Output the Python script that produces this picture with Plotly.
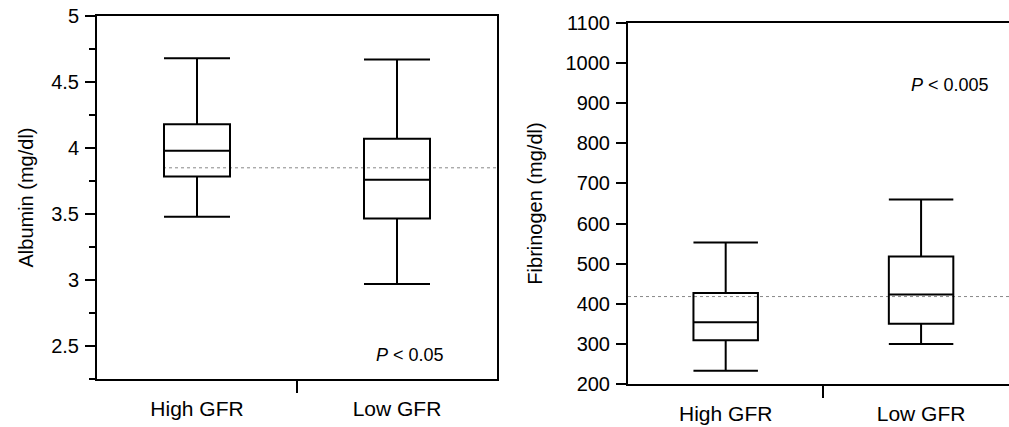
import plotly.graph_objects as go

# ---- data ----
groups = ["High GFR", "Low GFR"]
group_pos = [0, 1]

alb_low = [3.48, 2.97]
alb_q1 = [3.785, 3.465]
alb_median = [3.98, 3.76]
alb_q3 = [4.18, 4.07]
alb_high = [4.68, 4.67]
alb_ref = 3.85
alb_ticks = [2.5, 3, 3.5, 4, 4.5, 5]

fib_low = [233, 300]
fib_q1 = [309, 350]
fib_median = [354, 423]
fib_q3 = [427, 518]
fib_high = [553, 660]
fib_ref = 418
fib_ticks = [200, 300, 400, 500, 600, 700, 800, 900, 1000, 1100]

FONT = "Liberation Sans, Arial, sans-serif"
W, H = 1009, 427

fig = go.Figure()

box_style = dict(
    boxpoints=False,
    line=dict(color="black", width=2),
    fillcolor="rgba(255,255,255,0)",
    whiskerwidth=1,
    width=0.33,
    showlegend=False,
    hoverinfo="skip",
)

fig.add_trace(go.Box(x=group_pos, q1=alb_q1, median=alb_median, q3=alb_q3,
                     lowerfence=alb_low, upperfence=alb_high,
                     xaxis="x", yaxis="y", **box_style))
fig.add_trace(go.Box(x=group_pos, q1=fib_q1, median=fib_median, q3=fib_q3,
                     lowerfence=fib_low, upperfence=fib_high,
                     xaxis="x2", yaxis="y2", **box_style))

# reference dotted lines
fig.add_shape(type="line", xref="x", yref="y", x0=-0.17, x1=1.5, y0=alb_ref, y1=alb_ref,
              line=dict(color="#888888", width=1, dash="dot"), layer="below")
fig.add_shape(type="line", xref="x2", yref="y2", x0=-0.5, x1=1.46, y0=fib_ref, y1=fib_ref,
              line=dict(color="#888888", width=1, dash="dot"), layer="below")

line_common = dict(showline=True, linecolor="black", linewidth=2, showgrid=False,
                   zeroline=False, automargin=False)
ytickfont = dict(family=FONT, size=20, color="black")
xtickfont = dict(family=FONT, size=21, color="black")

xcat = dict(tickmode="array", tickvals=group_pos, ticktext=groups, ticks="",
            ticklabelstandoff=10, tickfont=xtickfont,
            minor=dict(tickmode="array", tickvals=[0.5], ticks="outside", ticklen=12,
                       tickwidth=2, tickcolor="black"))

fig.update_layout(
    width=W, height=H,
    margin=dict(l=0, r=0, t=0, b=0, autoexpand=False),
    paper_bgcolor="white", plot_bgcolor="white",
    font=dict(family=FONT, color="black"),
    xaxis=dict(domain=[97 / W, 497 / W], range=[-0.5, 1.5], anchor="y", mirror=True,
               **xcat, **line_common),
    yaxis=dict(domain=[1 - 379 / H, 1 - 16 / H], range=[2.25, 5], anchor="x", mirror=True,
               tickmode="array", tickvals=alb_ticks, ticks="outside", ticklen=10, tickwidth=2,
               tickcolor="black", ticklabelstandoff=2, tickfont=ytickfont,
               minor=dict(dtick=0.25, tick0=0, ticks="outside", ticklen=6, tickwidth=1.5,
                          tickcolor="black"),
               title=dict(text="Albumin (mg/dl)", font=dict(family=FONT, size=20), standoff=12),
               **line_common),
    xaxis2=dict(domain=[628 / W, 1.0], range=[-0.5, 1.45], anchor="y2", mirror=True,
                **xcat, **line_common),
    yaxis2=dict(domain=[1 - 384 / H, 1 - 23 / H], range=[200, 1100], anchor="x2", mirror=False,
                tickmode="array", tickvals=fib_ticks, ticks="outside", ticklen=10, tickwidth=2,
                tickcolor="black", ticklabelstandoff=2, tickfont=ytickfont,
                title=dict(text="Fibrinogen (mg/dl)", font=dict(family=FONT, size=20), standoff=18),
                **line_common),
    annotations=[
        dict(text="<i>P</i> < 0.05", xref="x", yref="y", x=1.066, y=2.43, showarrow=False,
             font=dict(family=FONT, size=18, color="black")),
        dict(text="<i>P</i> < 0.005", xref="x2", yref="y2", x=1.148, y=946, showarrow=False,
             font=dict(family=FONT, size=18, color="black")),
    ],
)

fig.write_html("out.html", config={"displayModeBar": False},
               post_script="document.body.style.margin='0';document.body.style.overflow='hidden';")
